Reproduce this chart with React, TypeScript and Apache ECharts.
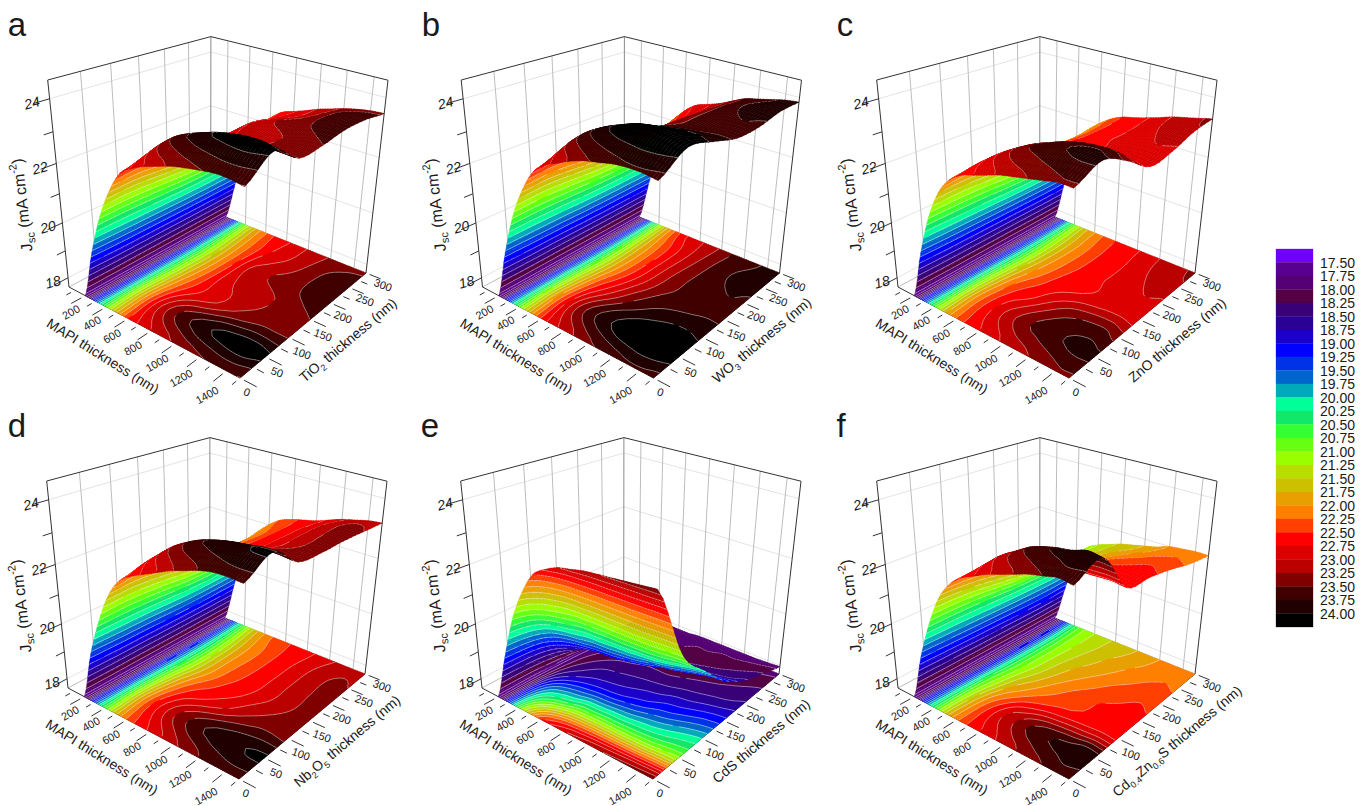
import React, { useEffect, useRef } from 'react';
import * as echarts from 'echarts';

const MAPI_NM = [200, 300, 400, 500, 600, 700, 800, 900, 1000, 1100, 1200, 1300, 1400, 1500];
const ETL_NM = [0, 50, 100, 150, 200, 250, 300];
const MAPI_TICKS = [200, 400, 600, 800, 1000, 1200, 1400];
const ETL_TICKS = [0, 50, 100, 150, 200, 250, 300];
const JSC_TICKS = [18, 20, 22, 24];
const WALL_MAPI_LINES = [200, 400, 600, 800, 1000, 1200, 1400];

// rows are ETL thickness, columns are MAPI thickness
const JSC_A = [
  [17.65, 19.4, 20.8, 21.8, 22.5, 22.8, 23.0, 23.15, 23.3, 23.4, 23.48, 23.55, 23.55, 23.49],
  [17.65, 19.3, 20.9, 21.9, 22.65, 23.15, 23.5, 23.72, 23.88, 24.02, 24.1, 24.15, 24.15, 24.05],
  [17.65, 19.3, 20.8, 21.7, 22.3, 22.65, 22.85, 22.97, 23.15, 23.3, 23.4, 23.48, 23.48, 23.48],
  [17.65, 19.3, 20.7, 21.55, 22.1, 22.55, 22.9, 23.03, 23.1, 23.18, 23.25, 23.35, 23.45, 23.5],
  [17.65, 19.3, 20.7, 21.5, 22.05, 22.5, 22.95, 23.1, 23.25, 23.32, 23.4, 23.55, 23.62, 23.62],
  [17.65, 19.35, 20.8, 21.6, 22.1, 22.45, 22.75, 22.92, 23.05, 23.22, 23.38, 23.55, 23.62, 23.6],
  [17.65, 19.4, 20.9, 21.75, 22.2, 22.55, 22.7, 22.85, 23.02, 23.15, 23.28, 23.38, 23.45, 23.48],
];
const JSC_B = [
  [17.65, 19.4, 20.85, 21.85, 22.55, 22.9, 23.1, 23.3, 23.45, 23.55, 23.65, 23.7, 23.7, 23.65],
  [17.65, 19.35, 21.0, 22.0, 22.75, 23.3, 23.65, 23.88, 24.05, 24.2, 24.25, 24.3, 24.25, 24.15],
  [17.65, 19.35, 20.9, 21.8, 22.45, 22.85, 23.2, 23.5, 23.7, 23.85, 23.95, 24.0, 24.0, 23.95],
  [17.65, 19.3, 20.75, 21.6, 22.15, 22.55, 22.9, 23.2, 23.45, 23.55, 23.6, 23.65, 23.7, 23.7],
  [17.65, 19.3, 20.75, 21.6, 22.1, 22.5, 22.85, 23.15, 23.4, 23.55, 23.65, 23.72, 23.75, 23.7],
  [17.65, 19.35, 20.85, 21.7, 22.2, 22.55, 22.85, 23.1, 23.35, 23.55, 23.7, 23.8, 23.85, 23.85],
  [17.65, 19.4, 20.95, 21.85, 22.45, 22.8, 22.95, 23.1, 23.3, 23.5, 23.6, 23.7, 23.8, 23.85],
];
const JSC_C = [
  [17.65, 19.4, 20.8, 21.75, 22.3, 22.6, 22.75, 22.9, 23.05, 23.15, 23.25, 23.35, 23.45, 23.45],
  [17.65, 19.3, 20.85, 21.85, 22.4, 22.75, 23.05, 23.3, 23.5, 23.6, 23.7, 23.78, 23.82, 23.8],
  [17.65, 19.3, 20.8, 21.7, 22.25, 22.55, 22.7, 22.95, 23.2, 23.4, 23.5, 23.55, 23.55, 23.4],
  [17.65, 19.3, 20.65, 21.5, 22.0, 22.3, 22.55, 22.65, 22.72, 22.8, 22.85, 22.9, 22.9, 22.85],
  [17.65, 19.3, 20.6, 21.4, 21.9, 22.2, 22.45, 22.6, 22.7, 22.78, 22.85, 22.95, 23.0, 22.95],
  [17.65, 19.3, 20.7, 21.45, 21.9, 22.2, 22.45, 22.6, 22.7, 22.8, 22.95, 23.05, 23.15, 23.2],
  [17.65, 19.4, 20.8, 21.6, 22.0, 22.3, 22.5, 22.6, 22.72, 22.85, 23.0, 23.1, 23.2, 23.3],
];
const JSC_D = [
  [17.65, 19.4, 20.7, 21.7, 22.3, 22.6, 22.8, 23.0, 23.2, 23.35, 23.5, 23.6, 23.62, 23.6],
  [17.65, 19.3, 20.8, 21.85, 22.5, 22.9, 23.25, 23.5, 23.7, 23.82, 23.9, 23.95, 24.03, 24.05],
  [17.65, 19.3, 20.7, 21.6, 22.2, 22.55, 22.7, 22.85, 23.0, 23.2, 23.35, 23.45, 23.45, 23.4],
  [17.65, 19.25, 20.5, 21.3, 21.85, 22.2, 22.45, 22.6, 22.72, 22.9, 23.05, 23.2, 23.3, 23.3],
  [17.65, 19.25, 20.45, 21.25, 21.8, 22.15, 22.35, 22.55, 22.7, 22.85, 23.05, 23.2, 23.3, 23.3],
  [17.65, 19.3, 20.55, 21.35, 21.85, 22.15, 22.35, 22.55, 22.7, 22.85, 23.05, 23.2, 23.3, 23.25],
  [17.65, 19.4, 20.7, 21.55, 22.0, 22.3, 22.45, 22.55, 22.65, 22.8, 22.95, 23.05, 23.15, 23.2],
];
const JSC_E = [
  [17.65, 19.3, 20.8, 21.8, 22.5, 22.8, 23.0, 23.1, 23.2, 23.25, 23.3, 23.35, 23.4, 23.45],
  [17.65, 19.05, 19.9, 20.25, 20.45, 20.7, 20.75, 20.8, 20.8, 20.82, 20.85, 20.9, 21.0, 21.05],
  [17.65, 18.4, 18.75, 18.95, 19.05, 19.1, 19.15, 19.25, 19.35, 19.5, 19.6, 19.75, 19.9, 20.0],
  [17.65, 18.05, 18.3, 18.45, 18.5, 18.55, 18.6, 18.65, 18.7, 18.8, 18.85, 18.95, 19.05, 19.1],
  [17.65, 17.85, 18.0, 18.1, 18.15, 18.2, 18.2, 18.2, 18.25, 18.3, 18.35, 18.4, 18.45, 18.55],
  [17.65, 17.8, 17.9, 17.95, 18.0, 18.0, 18.0, 18.05, 18.05, 18.1, 18.1, 18.15, 18.2, 18.25],
  [17.65, 17.75, 17.8, 17.85, 17.85, 17.85, 17.9, 17.9, 17.9, 17.9, 17.9, 17.9, 17.92, 17.95],
];
const JSC_F = [
  [17.65, 19.3, 20.6, 21.6, 22.2, 22.55, 22.75, 22.95, 23.1, 23.25, 23.4, 23.5, 23.6, 23.55],
  [17.65, 19.2, 20.6, 21.5, 22.15, 22.6, 23.0, 23.25, 23.5, 23.65, 23.75, 23.82, 23.95, 23.9],
  [17.65, 19.1, 20.5, 21.2, 21.75, 22.05, 22.3, 22.45, 22.55, 22.6, 22.65, 22.68, 22.7, 22.65],
  [17.65, 19.05, 20.35, 21.0, 21.4, 21.7, 21.95, 22.15, 22.3, 22.4, 22.5, 22.55, 22.6, 22.55],
  [17.65, 19.0, 20.3, 20.95, 21.3, 21.55, 21.75, 21.9, 22.05, 22.2, 22.3, 22.4, 22.45, 22.4],
  [17.65, 19.0, 20.3, 20.95, 21.25, 21.45, 21.6, 21.75, 21.85, 22.0, 22.1, 22.2, 22.25, 22.2],
  [17.65, 19.1, 20.4, 21.0, 21.25, 21.4, 21.55, 21.65, 21.75, 21.85, 22.0, 22.05, 22.1, 22.1],
];

const LEVELS = [
  17.5, 17.75, 18, 18.25, 18.5, 18.75, 19, 19.25, 19.5, 19.75, 20, 20.25, 20.5, 20.75,
  21, 21.25, 21.5, 21.75, 22, 22.25, 22.5, 22.75, 23, 23.25, 23.5, 23.75, 24,
];
// one colour per band, the first sits under 17.50 and the last over 24.00
const BAND_COLORS = [
  '#7000ff', '#5a0090', '#550075', '#550045', '#3a0078', '#2a0095', '#1a00c8', '#0000ff',
  '#0033e8', '#0066cc', '#00aabb', '#00ff99', '#11e86a', '#33ff33', '#66ff11', '#99ff00',
  '#b8dd00', '#ccc000', '#e8a000', '#ff8000', '#ff4000', '#ff0000', '#dd0000', '#bb0000',
  '#800000', '#400000', '#200000', '#000000',
];

const FONT = '"Liberation Sans", Arial, sans-serif';

const PANELS = [
  { name: 'a', data: JSC_A, dx: 0, dy: 0, lx: 17, ly: 24, etl: '{a|TiO}{s|2}{a| thickness (nm)}' },
  { name: 'b', data: JSC_B, dx: 413.5, dy: 0, lx: 431, ly: 24, etl: '{a|WO}{s|3}{a| thickness (nm)}' },
  { name: 'c', data: JSC_C, dx: 829, dy: 0, lx: 845, ly: 24, etl: '{a|ZnO thickness (nm)}' },
  { name: 'd', data: JSC_D, dx: -1, dy: 401, lx: 17, ly: 425, etl: '{a|Nb}{s|2}{a|O}{s|5}{a| thickness (nm)}' },
  { name: 'e', data: JSC_E, dx: 413, dy: 401, lx: 430, ly: 425, etl: '{a|CdS thickness (nm)}' },
  { name: 'f', data: JSC_F, dx: 829, dy: 401, lx: 841, ly: 425, etl: '{a|Cd}{s|0.4}{a|Zn}{s|0.6}{a|S thickness (nm)}' },
];

// box of panel a on the page: floor corners and two corners of its lid
const FLOOR = [[69, 287], [240, 378], [366, 273], [210.7, 211]];
const LID_LEFT = [47.7, 80];
const LID_RIGHT = [388, 72];
const M_MIN = 40, M_MAX = 1500, E_MIN = 0, E_MAX = 300, Z_MIN = 17.65, Z_MAX = 24.55;

function makeProjection() {
  const [[x0, y0], [x1, y1], [x2, y2], [x3, y3]] = FLOOR;
  const dx1 = x1 - x2, dx2 = x3 - x2, dx3 = x0 - x1 + x2 - x3;
  const dy1 = y1 - y2, dy2 = y3 - y2, dy3 = y0 - y1 + y2 - y3;
  const den = dx1 * dy2 - dx2 * dy1;
  const g = (dx3 * dy2 - dx2 * dy3) / den;
  const h = (dx1 * dy3 - dx3 * dy1) / den;
  const a = x1 - x0 + g * x1, b = x3 - x0 + h * x3, c = x0;
  const d = y1 - y0 + g * y1, e = y3 - y0 + h * y3, f = y0;
  const w1 = g + h + 1;
  const vz = (LID_RIGHT[0] * w1 - (a + b + c) - LID_LEFT[0] + c) / (LID_LEFT[0] - LID_RIGHT[0]);
  const vx = LID_LEFT[0] * (1 + vz) - c;
  const vy = LID_LEFT[1] * (1 + vz) - f;
  return (m: number, etl: number, z: number): [number, number] => {
    const u = (m - M_MIN) / (M_MAX - M_MIN);
    const v = (etl - E_MIN) / (E_MAX - E_MIN);
    const t = (z - Z_MIN) / (Z_MAX - Z_MIN);
    const w = g * u + h * v + 1 + vz * t;
    return [(a * u + b * v + c + vx * t) / w, (d * u + e * v + f + vy * t) / w];
  };
}
const project = makeProjection();

function spline(p0: number, p1: number, p2: number, p3: number, t: number) {
  return 0.5 * (2 * p1 + (p2 - p0) * t + (2 * p0 - 5 * p1 + 4 * p2 - p3) * t * t + (3 * p1 - p0 - 3 * p2 + p3) * t * t * t);
}

// smooth the sheet for drawing only, so that the bands do not show the grid
function refine(rows: number[][], stepE: number, stepM: number) {
  const at = (j: number, i: number) =>
    rows[Math.max(0, Math.min(rows.length - 1, j))][Math.max(0, Math.min(rows[0].length - 1, i))];
  const out: number[][] = [];
  for (let jj = 0; jj <= (rows.length - 1) * stepE; jj++) {
    const j = Math.min(Math.floor(jj / stepE), rows.length - 2);
    const tj = jj / stepE - j;
    const line: number[] = [];
    for (let ii = 0; ii <= (rows[0].length - 1) * stepM; ii++) {
      const i = Math.min(Math.floor(ii / stepM), rows[0].length - 2);
      const ti = ii / stepM - i;
      const col = [-1, 0, 1, 2].map((o) =>
        spline(at(j + o, i - 1), at(j + o, i), at(j + o, i + 1), at(j + o, i + 2), ti));
      line.push(Math.max(Z_MIN, spline(col[0], col[1], col[2], col[3], tj)));
    }
    out.push(line);
  }
  return out;
}

type Vertex = [number, number, number];

function clip(poly: Vertex[], level: number, keepAbove: boolean) {
  const res: Vertex[] = [];
  for (let n = 0; n < poly.length; n++) {
    const p = poly[n], q = poly[(n + 1) % poly.length];
    const pIn = keepAbove ? p[2] >= level : p[2] <= level;
    const qIn = keepAbove ? q[2] >= level : q[2] <= level;
    if (pIn) res.push(p);
    if (pIn !== qIn) {
      const t = (level - p[2]) / (q[2] - p[2]);
      res.push([p[0] + (q[0] - p[0]) * t, p[1] + (q[1] - p[1]) * t, level]);
    }
  }
  return res;
}

function addTriangle(tri: Vertex[], floorZ: number | null, fills: Map<number, string[]>, lines: string[]) {
  const zs = tri.map((v) => v[2]);
  const lo = Math.min(...zs), hi = Math.max(...zs);
  const toXY = (v: Vertex) => project(v[0], v[1], floorZ == null ? v[2] : floorZ);
  const first = Math.max(0, Math.min(27, Math.floor((lo - 17.25) / 0.25)));
  const last = Math.max(0, Math.min(27, Math.floor((hi - 17.25) / 0.25)));
  for (let k = first; k <= last; k++) {
    let poly = tri;
    if (k > 0) poly = clip(poly, 17.25 + 0.25 * k, true);
    if (k < 27 && poly.length) poly = clip(poly, 17.5 + 0.25 * k, false);
    if (poly.length < 3) continue;
    const pts = poly.map(toXY);
    let area = 0;
    pts.forEach((p, n) => {
      const q = pts[(n + 1) % pts.length];
      area += p[0] * q[1] - q[0] * p[1];
    });
    if (area < 0) pts.reverse();
    const d = 'M' + pts.map((p) => p[0].toFixed(1) + ' ' + p[1].toFixed(1)).join('L') + 'Z';
    if (!fills.has(k)) fills.set(k, []);
    fills.get(k)!.push(d);
  }
  for (const level of LEVELS) {
    if (level < lo || level > hi) continue;
    const seg: [number, number][] = [];
    for (let n = 0; n < 3; n++) {
      const p = tri[n], q = tri[(n + 1) % 3];
      if ((p[2] - level) * (q[2] - level) < 0) {
        const t = (level - p[2]) / (q[2] - p[2]);
        seg.push(toXY([p[0] + (q[0] - p[0]) * t, p[1] + (q[1] - p[1]) * t, level]));
      }
    }
    if (seg.length === 2) {
      lines.push(`M${seg[0][0].toFixed(1)} ${seg[0][1].toFixed(1)}L${seg[1][0].toFixed(1)} ${seg[1][1].toFixed(1)}`);
    }
  }
}

function flush(fills: Map<number, string[]>, lines: string[], children: any[]) {
  [...fills.keys()].sort((a, b) => a - b).forEach((k) => {
    children.push({
      type: 'path',
      shape: { pathData: fills.get(k)!.join('') },
      style: { fill: BAND_COLORS[k], stroke: BAND_COLORS[k], lineWidth: 0.35 },
    });
  });
  if (lines.length) {
    children.push({
      type: 'path',
      shape: { pathData: lines.join('') },
      style: { fill: null, stroke: 'rgba(255,255,255,0.72)', lineWidth: 0.6 },
    });
  }
  fills.clear();
  lines.length = 0;
}

function segment(a: [number, number], b: [number, number], stroke: string, width: number) {
  return { type: 'line', shape: { x1: a[0], y1: a[1], x2: b[0], y2: b[1] }, style: { stroke, lineWidth: width } };
}

function label(text: string, x: number, y: number, deg: number, fontSize: number, italic = false) {
  return {
    type: 'text',
    x,
    y,
    rotation: (deg * Math.PI) / 180,
    style: {
      text,
      fill: '#1a1a1a',
      align: 'center',
      verticalAlign: 'middle',
      fontFamily: FONT,
      fontSize,
      fontStyle: italic ? 'italic' : 'normal',
    },
  };
}

function richTitle(text: string, x: number, y: number, deg: number, fontSize = 14) {
  const a = { fontFamily: FONT, fontSize, lineHeight: fontSize + 6, fill: '#1a1a1a' };
  return {
    type: 'text',
    x,
    y,
    rotation: (deg * Math.PI) / 180,
    style: {
      text,
      align: 'center',
      verticalAlign: 'middle',
      rich: {
        a,
        s: { ...a, fontSize: fontSize - 5, verticalAlign: 'bottom' },
        u: { ...a, fontSize: fontSize - 5, verticalAlign: 'top' },
      },
    },
  };
}

const MAPI_LABEL_POS = [[71, 312], [92, 323], [112, 336], [133, 348], [157, 363], [181, 378], [207, 395]];
const ETL_LABEL_POS = [[247, 392], [277, 372], [302, 353], [323, 335], [343, 317], [365, 300], [383, 285]];
const JSC_LABEL_POS = [[53, 282], [48, 227], [40, 168], [32, 103]];

function buildBox(children: any[]) {
  const light = '#e4e4e4', mid = '#bdbdbd', dark = '#333333';
  for (const z of JSC_TICKS) {
    children.push(segment(project(M_MIN, E_MIN, z), project(M_MIN, E_MAX, z), light, 1));
    children.push(segment(project(M_MIN, E_MAX, z), project(M_MAX, E_MAX, z), light, 1));
  }
  for (const e of ETL_TICKS.slice(1, -1)) {
    children.push(segment(project(M_MIN, e, Z_MIN), project(M_MIN, e, Z_MAX), mid, 1));
  }
  for (const m of WALL_MAPI_LINES) {
    children.push(segment(project(m, E_MAX, Z_MIN), project(m, E_MAX, Z_MAX), mid, 1));
  }
  children.push(segment(project(M_MIN, E_MAX, Z_MIN), project(M_MIN, E_MAX, Z_MAX), '#8a8a8a', 1));
  children.push(segment(project(M_MIN, E_MAX, Z_MIN), project(M_MAX, E_MAX, Z_MIN), mid, 1));
  children.push(segment(project(M_MIN, E_MIN, Z_MIN), project(M_MIN, E_MAX, Z_MIN), mid, 1));
  children.push(segment(project(M_MIN, E_MIN, Z_MIN), project(M_MIN, E_MIN, Z_MAX), dark, 1));
  children.push(segment(project(M_MIN, E_MIN, Z_MAX), project(M_MIN, E_MAX, Z_MAX), dark, 1));
  children.push(segment(project(M_MIN, E_MAX, Z_MAX), project(M_MAX, E_MAX, Z_MAX), dark, 1));
  children.push(segment(project(M_MAX, E_MAX, Z_MAX), project(M_MAX, E_MAX, Z_MIN), dark, 1));
  children.push(segment(project(M_MIN, E_MIN, Z_MIN), project(M_MAX, E_MIN, Z_MIN), dark, 1));
  children.push(segment(project(M_MAX, E_MIN, Z_MIN), project(M_MAX, E_MAX, Z_MIN), dark, 1));
}

function buildAxes(children: any[], etlTitle: string) {
  const dark = '#333333';
  for (let m = 100; m <= 1500; m += 100) {
    const major = m % 200 === 0;
    children.push(segment(project(m, -7, Z_MIN), project(m, major ? -24 : -15, Z_MIN), dark, 1));
  }
  for (let e = 0; e <= 300; e += 25) {
    const major = e % 50 === 0;
    children.push(segment(project(1530, e, Z_MIN), project(major ? 1620 : 1580, e, Z_MIN), dark, 1));
  }
  for (let z = 18; z <= 24; z += 1) {
    children.push(segment(project(M_MIN, E_MIN, z), project(M_MIN, z % 2 === 0 ? -24 : -14, z), dark, 1));
  }
  MAPI_TICKS.forEach((m, n) => {
    children.push(label(String(m), MAPI_LABEL_POS[n][0], MAPI_LABEL_POS[n][1], 30, 11));
  });
  ETL_TICKS.forEach((e, n) => {
    children.push(label(String(e), ETL_LABEL_POS[n][0], ETL_LABEL_POS[n][1], -20, 11));
  });
  JSC_TICKS.forEach((z, n) => {
    children.push(label(String(z), JSC_LABEL_POS[n][0], JSC_LABEL_POS[n][1], 15, 14, true));
  });
  children.push(label('MAPI thickness (nm)', 103, 356, -32, 14));
  children.push(richTitle(etlTitle, 348, 340, 40));
  children.push(richTitle('{a|J}{s|sc}{a| (mA cm}{u|-2}{a|)}', 22, 205, 96, 16));
}

function buildPanel(panel: typeof PANELS[number]) {
  const stepM = 5, stepE = 5;
  const sheet = refine(panel.data, stepE, stepM);
  const rows = sheet.length, cols = sheet[0].length;
  const vertex = (j: number, i: number): Vertex => [
    MAPI_NM[0] + (i / stepM) * 100,
    ETL_NM[0] + (j / stepE) * 50,
    sheet[j][i],
  ];
  const plot: any[] = [];
  buildBox(plot);
  const fills = new Map<number, string[]>();
  const lines: string[] = [];

  // contour map on the floor
  for (let i = 0; i < cols - 1; i++) {
    for (let j = 0; j < rows - 1; j++) {
      const a = vertex(j, i), b = vertex(j, i + 1), c = vertex(j + 1, i + 1), d = vertex(j + 1, i);
      addTriangle([a, b, c], Z_MIN, fills, lines);
      addTriangle([a, c, d], Z_MIN, fills, lines);
    }
  }
  flush(fills, lines, plot);

  // the sheet, far strips first so that nearer ones cover them
  for (let i = 0; i < cols - 1; i++) {
    for (let j = rows - 2; j >= 0; j--) {
      const a = vertex(j, i), b = vertex(j, i + 1), c = vertex(j + 1, i + 1), d = vertex(j + 1, i);
      addTriangle([a, c, d], null, fills, lines);
      addTriangle([a, b, c], null, fills, lines);
    }
    flush(fills, lines, plot);
  }
  buildAxes(plot, panel.etl);

  return {
    type: 'group',
    children: [
      { type: 'group', x: panel.dx, y: panel.dy, children: plot },
      label(panel.name, panel.lx, panel.ly, 0, 33),
    ],
  };
}

const COLORBAR_ROWS = BAND_COLORS.map((_, k) => [17.25 + 0.25 * k, 17.5 + 0.25 * k, k]);

export default function App() {
  const elRef = useRef<HTMLDivElement | null>(null);

  useEffect(() => {
    if (!elRef.current) return;
    const chart = echarts.init(elRef.current, undefined, { renderer: 'svg' });
    const panelSeries: any[] = PANELS.map((panel) => {
      const drawn = buildPanel(panel);
      return {
        type: 'custom',
        name: panel.name,
        coordinateSystem: 'none',
        silent: true,
        data: [0],
        renderItem: () => drawn,
      };
    });
    chart.setOption({
      animation: false,
      backgroundColor: '#ffffff',
      grid: { left: 1276, top: 249, width: 37, height: 378 },
      xAxis: { type: 'value', min: 0, max: 1, show: false },
      yAxis: {
        type: 'value',
        position: 'right',
        inverse: true,
        min: 17.25,
        max: 24.25,
        interval: 0.25,
        splitLine: { show: false },
        axisLine: { show: false },
        axisTick: { show: false },
        axisLabel: {
          margin: 7,
          color: '#1a1a1a',
          fontFamily: FONT,
          fontSize: 14,
          padding: [4, 0, 0, 0],
          showMinLabel: false,
          showMaxLabel: false,
          formatter: (v: number) => v.toFixed(2),
        },
      },
      series: [
        ...panelSeries,
        {
          type: 'custom',
          name: 'colour scale',
          silent: true,
          clip: false,
          encode: { y: [0, 1] },
          data: COLORBAR_ROWS,
          renderItem: (params: any, api: any) => {
            const top = api.coord([0, api.value(0)]);
            const bottom = api.coord([1, api.value(1)]);
            return {
              type: 'rect',
              shape: { x: top[0], y: top[1], width: bottom[0] - top[0], height: bottom[1] - top[1] },
              style: { fill: BAND_COLORS[api.value(2)], stroke: BAND_COLORS[api.value(2)], lineWidth: 0.3 },
            };
          },
        },
      ],
    });
    return () => {
      chart.dispose();
    };
  }, []);

  return <div ref={elRef} style={{ position: 'fixed', left: 0, top: 0, width: 1371, height: 806 }} />;
}
